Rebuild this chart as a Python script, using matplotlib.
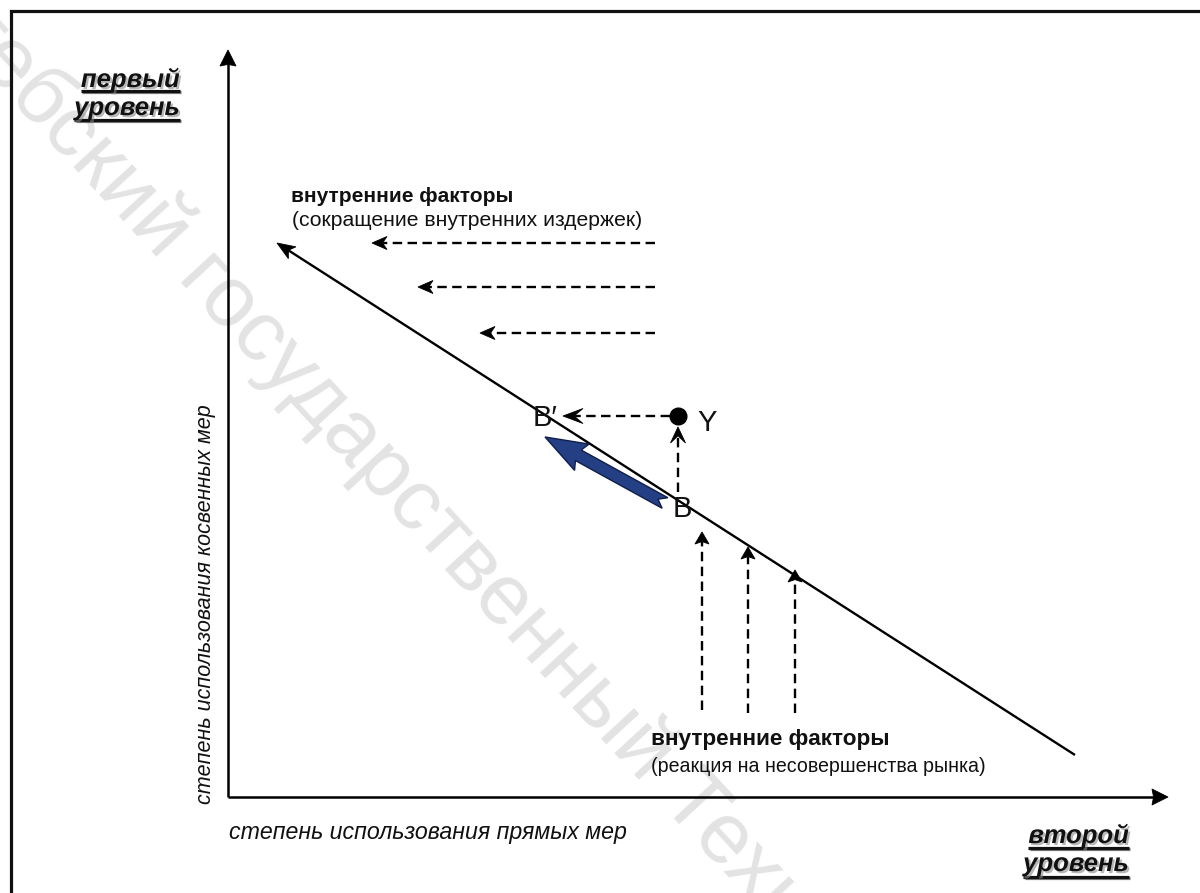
import numpy as np
import matplotlib
matplotlib.use("Agg")
import matplotlib.pyplot as plt
from matplotlib.patches import Polygon
import matplotlib.patheffects as pe

plt.rcParams['font.family'] = ['Liberation Sans', 'DejaVu Sans']

# ---- diagram data (pixel-space layout of the scheme) ----
origin = (228, 797)
y_axis_top = 50
x_axis_right = 1168
main_line_start = (1075, 755)
main_line_end = (277, 243)
h_dash_y = [243, 287, 333]
h_dash_x_from = [655, 655, 655]
h_dash_x_to = [372, 418, 480]
v_dash_x = [702, 748, 795]
v_dash_y_from = [710, 713, 713]
v_dash_y_to = [532, 547, 570]
point_Y = (678, 416)
point_B = (678, 492)
point_Bp_tip = (563, 416)
blue_tail = (665, 503)
blue_tip = (545, 437)

label_top_bold = "внутренние факторы"
label_top_sub = "(сокращение внутренних издержек)"
label_bot_bold = "внутренние факторы"
label_bot_sub = "(реакция на несовершенства рынка)"
x_title = "степень использования прямых мер"
y_title = "степень использования косвенных мер"
level1 = ["первый", "уровень"]
level2 = ["второй", "уровень"]
watermark_pre = "Вите"
watermark = "Витебский государственный Технологический университет"

W, H = 1200, 893
fig = plt.figure(figsize=(12, 8.93), dpi=100)
ax = fig.add_axes([0, 0, 1, 1])
ax.set_xlim(0, W)
ax.set_ylim(H, 0)
ax.axis('off')
fig.canvas.draw()
renderer = fig.canvas.get_renderer()

# watermark, positioned so that "б" starts near the top-left corner
ang = 47.3
wm_size = 62
tmp = ax.text(0, 0, watermark_pre, fontsize=wm_size)
wpre = tmp.get_window_extent(renderer).width
tmp.remove()
dvec = np.array([np.cos(np.radians(ang)), np.sin(np.radians(ang))])
start = np.array([24.0, 80.0]) - wpre * dvec
ax.text(start[0], start[1], watermark, rotation=-ang, rotation_mode='anchor',
        fontsize=wm_size, color='#e3e3e3', ha='left', va='center', zorder=0)

# frame (left & top visible)
ax.plot([11, 11, W + 5], [H + 5, 11, 11], color='#111111', lw=2.3, zorder=1,
        solid_joinstyle='miter', clip_on=False)


def arrow(p0, p1, dashed=False, lw=1.6, hl=14, hw=7, notch=0.25, color='black', z=3):
    p0 = np.array(p0, float)
    p1 = np.array(p1, float)
    d = p1 - p0
    u = d / np.hypot(*d)
    n = np.array([-u[1], u[0]])
    base = p1 - hl * u
    nb = p1 - hl * (1 - notch) * u
    ls = (0, (4, 2.3)) if dashed else '-'
    ax.plot([p0[0], nb[0]], [p0[1], nb[1]], color=color, lw=lw, ls=ls,
            solid_capstyle='butt', dash_capstyle='butt', zorder=z)
    head = [p1, base + hw * n, nb, base - hw * n]
    ax.add_patch(Polygon(head, closed=True, facecolor=color, edgecolor=color,
                         lw=0.6, zorder=z))


# axes
arrow(origin, (origin[0], y_axis_top), lw=1.8, hl=16, hw=8, notch=0.1)
arrow(origin, (x_axis_right, origin[1]), lw=1.8, hl=16, hw=8, notch=0.1)
# main diagonal line
arrow(main_line_start, main_line_end, lw=1.7, hl=18, hw=7, notch=0.25)

# dashed horizontal arrows
for y, x0, x1 in zip(h_dash_y, h_dash_x_from, h_dash_x_to):
    arrow((x0, y), (x1, y), dashed=True, lw=1.7, hl=15, hw=6.5, notch=0.3)
# dashed vertical arrows
for x, y0, y1 in zip(v_dash_x, v_dash_y_from, v_dash_y_to):
    arrow((x, y0), (x, y1), dashed=True, lw=1.7, hl=12, hw=7, notch=0.2)

# Y point and connectors
arrow(point_B, (point_Y[0], point_Y[1] + 11), dashed=True, lw=1.7, hl=16, hw=7.5, notch=0.45)
arrow((point_Y[0] - 8, point_Y[1]), point_Bp_tip, dashed=True, lw=1.7, hl=20, hw=7.5, notch=0.45)
ax.plot(*point_Y, 'o', color='black', ms=12, zorder=4)

# blue thick arrow (notched tail)
tail = np.array(blue_tail, float)
tip = np.array(blue_tip, float)
d = tip - tail
L = np.hypot(*d)
u = d / L
n = np.array([-u[1], u[0]])
sw, hwb, hlen, notch = 6.0, 15, 38, 8
local = [(notch, 0), (0, sw), (L - hlen, sw), (L - hlen - 4, hwb), (L, 0),
         (L - hlen - 4, -hwb), (L - hlen, -sw), (0, -sw)]
pts = [tail + a * u + b * n for a, b in local]
ax.add_patch(Polygon(pts, closed=True, facecolor='#243f84', edgecolor='#101e4a',
                     lw=1.0, zorder=5))

# point labels
ax.text(545, 418, "B\u2032", fontsize=21, ha='center', va='center', color='#111111', zorder=6)
ax.text(697, 423, "Y", fontsize=21, ha='left', va='center', color='#111111', zorder=6)
ax.text(682, 509, "B", fontsize=21, ha='center', va='center', color='#111111', zorder=6)

# factor texts
ax.text(291, 197, label_top_bold, fontsize=15, fontweight='bold', ha='left', va='center', color='#111111')
ax.text(292, 221, label_top_sub, fontsize=15.2, ha='left', va='center', color='#111111')
ax.text(651, 739, label_bot_bold, fontsize=16.2, fontweight='bold', ha='left', va='center', color='#111111')
ax.text(651, 767, label_bot_sub, fontsize=14.1, ha='left', va='center', color='#111111')

# axis titles
ax.text(229, 833, x_title, fontsize=16.7, style='italic', ha='left', va='center', color='#111111')
ax.text(206, 604, y_title, fontsize=15.5, style='italic', ha='center', va='center',
        rotation=90, color='#111111')

# level labels (bold italic underlined with shadow)
shadow = [pe.withSimplePatchShadow(offset=(1.5, -1.5), shadow_rgbFace='#888888', alpha=0.6)]
inv = ax.transData.inverted()


def level_label(words, x_right, ys, uls):
    for w, y, uy in zip(words, ys, uls):
        t = ax.text(x_right, y, w, fontsize=18.5, fontweight='bold', style='italic',
                    ha='right', va='baseline', color='#111111', path_effects=shadow)
        bb = t.get_window_extent(renderer)
        (x0, _), (x1, _) = inv.transform([(bb.x0, bb.y0), (bb.x1, bb.y1)])
        ax.plot([x0, x1], [uy, uy], color='#111111', lw=2.3, solid_capstyle='butt',
                path_effects=[pe.SimpleLineShadow(offset=(1, -1), alpha=0.5), pe.Normal()])


level_label(level1, 180, [87, 115], [91, 120])
level_label(level2, 1129, [843, 871], [848, 877])

fig.savefig('out.png', dpi=100, facecolor='white')
